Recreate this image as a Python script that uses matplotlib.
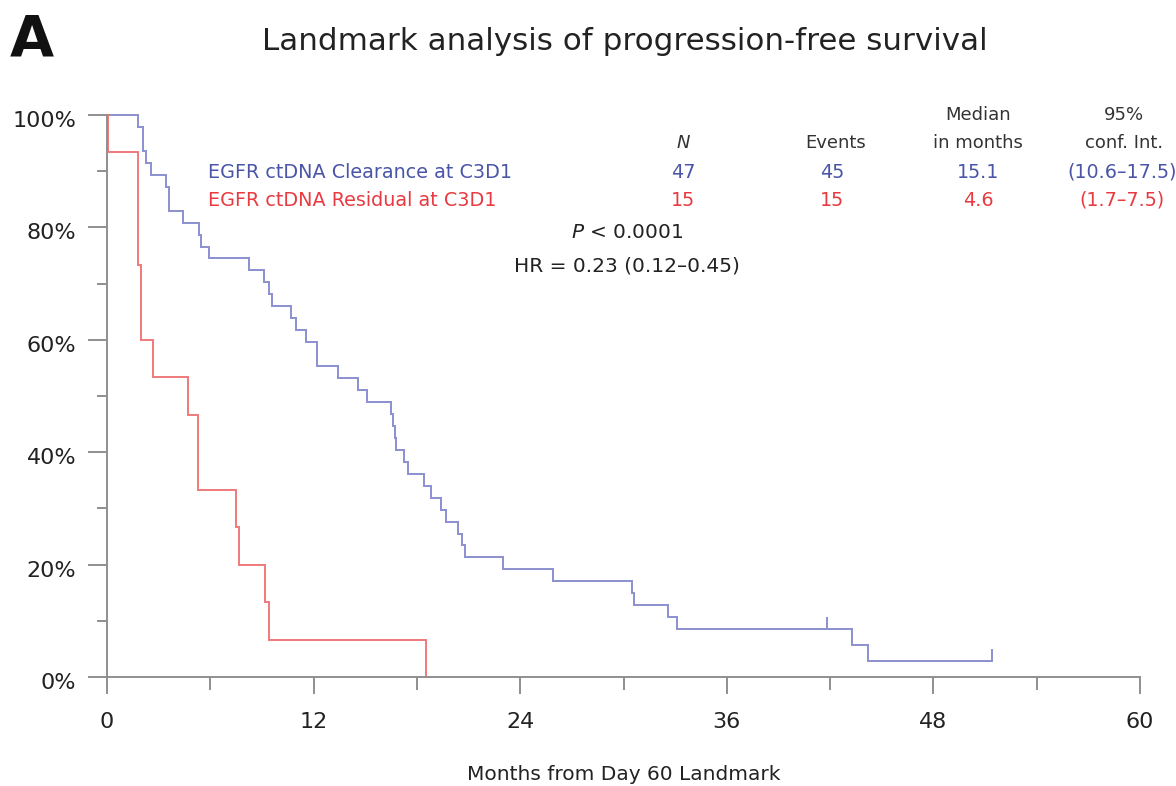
import numpy as np
import matplotlib
matplotlib.use("Agg")
import matplotlib.pyplot as plt
import matplotlib.transforms as mtransforms
from matplotlib.ticker import MultipleLocator, FuncFormatter

plt.rcParams['font.family'] = ['DejaVu Sans']

# ---------------- data ----------------
title = "Landmark analysis of progression-free survival"
panel = "A"
xlabel = "Months from Day 60 Landmark"
groups = ["EGFR ctDNA Clearance at C3D1", "EGFR ctDNA Residual at C3D1"]
n_at_start = [47, 15]
n_events = [45, 15]
medians = ["15.1", "4.6"]
conf_ints = ["(10.6\u201317.5)", "(1.7\u20137.5)"]
p_text = "< 0.0001"
hr_text = "HR = 0.23 (0.12\u20130.45)"

clear_event_times = [1.78, 2.07, 2.07, 2.26, 2.55, 3.42, 3.6, 3.6, 4.4, 5.36, 5.45, 5.94,
                     8.26, 9.1, 9.4, 9.6, 10.7, 11.0, 11.55, 12.2, 12.2, 13.4, 14.6, 15.1,
                     16.5, 16.6, 16.7, 16.8, 17.25, 17.5, 18.4, 18.8, 19.4, 19.7, 20.4, 20.6, 20.8,
                     23.0, 25.9, 30.5, 30.6, 32.6, 33.1, 43.3, 44.2]
clear_censor_times = [41.8, 51.4]
resid_event_times = [0.08, 1.78, 1.78, 1.78, 1.97, 1.97, 2.7, 4.7, 5.3, 5.3,
                     7.5, 7.65, 9.2, 9.4, 18.5]
resid_censor_times = []

xticks_major = [0, 12, 24, 36, 48, 60]
yticks_major = [0, 0.2, 0.4, 0.6, 0.8, 1.0]

blue_line = "#8c8fd0"
red_line = "#f07a7a"
blue_text = "#4a55a8"
red_text = "#e83a40"
dark = "#333333"
axis_col = "#8f8f8f"


def km(event_times, censor_times):
    ev = np.asarray(event_times, float)
    ce = np.asarray(censor_times, float)
    n = len(ev) + len(ce)
    times = np.unique(np.concatenate([ev, ce]))
    at_risk = n
    s = 1.0
    xs, ys = [0.0], [1.0]
    cens_pts = []
    last_t = 0.0
    for t in times:
        d = int(np.sum(ev == t))
        c = int(np.sum(ce == t))
        if d > 0:
            xs += [t, t]
            ys += [s, s * (1 - d / at_risk)]
            s = s * (1 - d / at_risk)
        if c > 0:
            cens_pts.append((t, s))
        at_risk -= d + c
        last_t = t
    xs.append(last_t)
    ys.append(s)
    return np.array(xs), np.array(ys), cens_pts


W, H = 1176, 786
fig = plt.figure(figsize=(W / 100, H / 100), dpi=100)
ax = fig.add_axes([107 / W, 1 - 677 / H, (1140 - 107) / W, (677 - 115) / H])

for ev, ce, col in [(clear_event_times, clear_censor_times, blue_line),
                    (resid_event_times, resid_censor_times, red_line)]:
    xs, ys, cp = km(ev, ce)
    ax.plot(xs, ys, color=col, lw=1.4, clip_on=False, solid_joinstyle='miter')
    if cp:
        cx, cy = zip(*cp)
        ax.plot(cx, cy, ls='none', marker=2, ms=9, mew=1.4, color=col, clip_on=False)

ax.set_xlim(0, 60)
ax.set_ylim(0, 1.0)
ax.set_xticks(xticks_major)
ax.xaxis.set_minor_locator(MultipleLocator(6))
ax.set_yticks(yticks_major)
ax.yaxis.set_minor_locator(MultipleLocator(0.1))
ax.yaxis.set_major_formatter(FuncFormatter(lambda v, p: f"{int(round(v * 100))}%"))
for s in ['top', 'right']:
    ax.spines[s].set_visible(False)
for s in ['left', 'bottom']:
    ax.spines[s].set_color(axis_col)
    ax.spines[s].set_linewidth(1.4)
ax.tick_params(axis='x', which='major', length=12, width=1.4, color=axis_col,
               labelsize=16, labelcolor='#222222', pad=13)
ax.tick_params(axis='x', which='minor', length=9, width=1.4, color=axis_col)
ax.tick_params(axis='y', which='major', length=14, width=1.4, color=axis_col,
               labelsize=16, labelcolor='#222222', pad=8)
ax.tick_params(axis='y', which='minor', length=7, width=1.4, color=axis_col)
ax.set_xlabel(xlabel, fontsize=14.5, color='#222222', labelpad=24)

off = mtransforms.ScaledTranslation(0, -4 / 100, fig.dpi_scale_trans)
for lbl in ax.get_yticklabels():
    lbl.set_transform(lbl.get_transform() + off)


def T(x, y, s, **kw):
    fig.text(x / W, 1 - y / H, s, **kw)


T(10, 41, panel, fontsize=41, fontweight='bold', ha='left', va='center', color='#111111')
T(625, 42, title, fontsize=22.3, ha='center', va='center', color='#222222')

hdr = dict(fontsize=13, color=dark, ha='center', va='center')
T(683, 143, "N", style='italic', **hdr)
T(836, 143, "Events", **hdr)
T(978, 115, "Median", **hdr)
T(978, 143, "in months", **hdr)
T(1124, 115, "95%", **hdr)
T(1124, 143, "conf. Int.", **hdr)

rows_y = [172, 200]
cols = [blue_text, red_text]
for i in range(2):
    kw = dict(fontsize=13.8, color=cols[i], va='center')
    T(208, rows_y[i], groups[i], ha='left', **kw)
    T(683, rows_y[i], str(n_at_start[i]), ha='center', **kw)
    T(832, rows_y[i], str(n_events[i]), ha='center', **kw)
    T(978, rows_y[i], medians[i], ha='center', **kw)
    T(1122, rows_y[i], conf_ints[i], ha='center', **kw)

T(627, 232, r"$\it{P}$ " + p_text, fontsize=14.5, color='#222222', ha='center', va='center')
T(627, 266, hr_text, fontsize=14.5, color='#222222', ha='center', va='center')

fig.savefig("out.png", dpi=100, facecolor='white')
